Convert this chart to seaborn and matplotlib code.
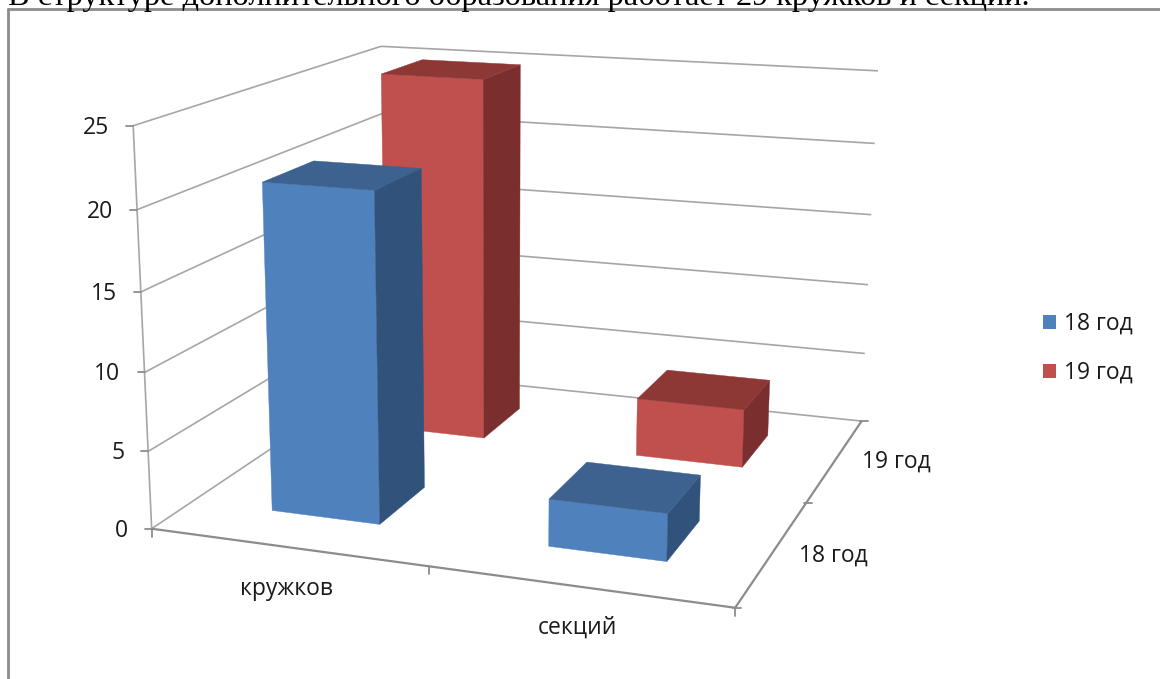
import numpy as np
import matplotlib
matplotlib.use("Agg")
import matplotlib.pyplot as plt
import seaborn as sns

categories = ["кружков", "секций"]
series_names = ["18 год", "19 год"]
values_18 = [21, 3]
values_19 = [25, 4]
z_ticks = [0, 5, 10, 15, 20, 25]
heading = "В структуре дополнительного образования работает 29 кружков и секций."

front_colors = ["#4F81BD", "#C0504D"]
side_colors = ["#31527B", "#7A2F2E"]
top_colors = ["#3D628F", "#8E3836"]
grid_color = "#A6A6A6"
axis_color = "#8C8C8C"
text_color = "#1A1A1A"
label_size = 16.5


def fit_projection():
    # corners of the 3d box as (category, series, value) -> picture pixels
    anchors = [
        ((0, 0, 0), (152, 529)),
        ((1, 0, 0), (428, 567)),
        ((2, 0, 0), (735, 607)),
        ((2, 1, 0), (807.5, 503)),
        ((2, 2, 0), (861, 421)),
        ((0, 0, 25), (133, 126)),
        ((0, 2, 25), (381, 46)),
        ((2, 2, 25), (878, 71)),
        ((0, 0, 10), (145, 372)),
        ((2, 2, 10), (868, 285)),
    ]
    rows = []
    for (u, v, z), (px, py) in anchors:
        rows.append([u, v, z, 1, 0, 0, 0, 0, -px * u, -px * v, -px * z, -px])
        rows.append([0, 0, 0, 0, u, v, z, 1, -py * u, -py * v, -py * z, -py])
    _, _, vt = np.linalg.svd(np.array(rows, dtype=float))
    return vt[-1].reshape(3, 4)


P = fit_projection()


def project(u, v, z):
    x, y, w = P @ np.array([u, v, z, 1.0])
    return x / w, y / w


def draw_line(ax, a, b, color=grid_color, lw=1.2):
    pa, pb = project(*a), project(*b)
    ax.plot([pa[0], pb[0]], [pa[1], pb[1]], color=color, lw=lw, solid_capstyle="butt", zorder=1)


def draw_face(ax, corners, color):
    pts = [project(*c) for c in corners]
    ax.fill([p[0] for p in pts], [p[1] for p in pts], color=color, lw=0.3, zorder=2)


def draw_bar(ax, cat, ser, value):
    # gap width 150% on both floor directions
    u0, u1 = cat + 0.3, cat + 0.7
    v0, v1 = ser + 0.3, ser + 0.7
    draw_face(ax, [(u0, v0, 0), (u1, v0, 0), (u1, v0, value), (u0, v0, value)], front_colors[ser])
    draw_face(ax, [(u1, v0, 0), (u1, v1, 0), (u1, v1, value), (u1, v0, value)], side_colors[ser])
    draw_face(ax, [(u0, v0, value), (u1, v0, value), (u1, v1, value), (u0, v1, value)], top_colors[ser])


sns.set_theme(style="white")
plt.rcParams["font.family"] = ["Open Sans", "DejaVu Sans"]

fig, ax = plt.subplots(figsize=(11.6, 6.79), dpi=100)
ax.set_position([0, 0, 1, 1])
ax.set_xlim(0, 1160)
ax.set_ylim(679, 0)
ax.axis("off")

# frame of the pasted chart and the cut off line of text above it
ax.plot([8, 8], [679, 9], color=axis_color, lw=2)
ax.plot([8, 1160], [9, 9], color=axis_color, lw=2)
ax.text(8, 5, heading, family="Liberation Serif", fontsize=23.3, color="black", va="baseline", ha="left")

# walls
for z in z_ticks:
    draw_line(ax, (0, 0, z), (0, 2, z))
    draw_line(ax, (0, 2, z), (2, 2, z))
    tx, ty = project(0, 0, z)
    ax.plot([tx - 7, tx], [ty, ty], color=axis_color, lw=1.3)
    ax.text(tx - 24, ty + 2, str(z), ha="right", va="center", fontsize=label_size, color=text_color)

# axes on the floor
draw_line(ax, (0, 0, 0), (0, 0, 25), grid_color, 1.2)
draw_line(ax, (0, 0, 0), (2, 0, 0), axis_color, 1.6)
draw_line(ax, (2, 0, 0), (2, 2, 0), axis_color, 1.6)
for u in range(3):
    tx, ty = project(u, 0, 0)
    ax.plot([tx, tx], [ty, ty + 8], color=axis_color, lw=1.3)
for v in range(3):
    tx, ty = project(2, v, 0)
    ax.plot([tx - 2, tx + 6], [ty, ty], color=axis_color, lw=1.3)

# back row first so the front row covers it
for ser, values in reversed(list(enumerate([values_18, values_19]))):
    for cat, value in enumerate(values):
        draw_bar(ax, cat, ser, value)

ax.text(286, 589, categories[0], ha="center", va="center", fontsize=label_size, color=text_color)
ax.text(577, 628, categories[1], ha="center", va="center", fontsize=label_size, color=text_color)
ax.text(833, 556, series_names[0], ha="center", va="center", fontsize=label_size, color=text_color)
ax.text(896, 462, series_names[1], ha="center", va="center", fontsize=label_size, color=text_color)

# legend
for i, name in enumerate(series_names):
    y = 322 + 49 * i
    ax.fill([1043, 1056, 1056, 1043], [y - 7, y - 7, y + 7, y + 7], color=front_colors[i], lw=0)
    ax.text(1064, y + 1.5, name, ha="left", va="center", fontsize=label_size, color=text_color)

fig.savefig("out.png", dpi=100)
